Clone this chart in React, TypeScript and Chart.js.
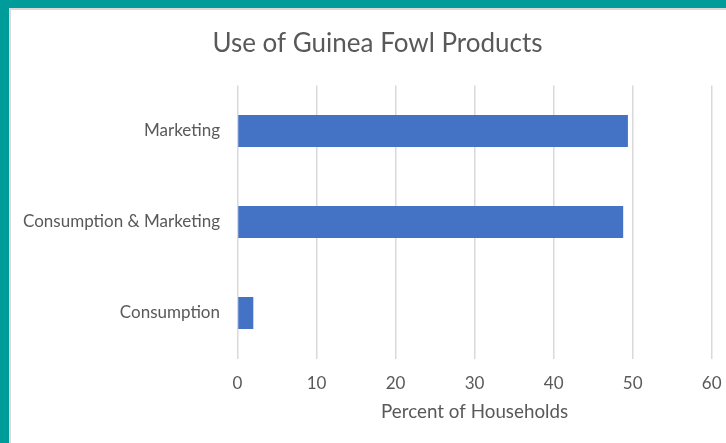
import React, { useEffect, useRef } from "react";
import { Chart, registerables } from "chart.js";

Chart.register(...registerables);

const chartTitle = "Use of Guinea Fowl Products";
const axisTitle = "Percent of Households";
const categories = ["Marketing", "Consumption & Marketing", "Consumption"];
const percentOfHouseholds = [49.4, 48.8, 2.0];
const xMin = 0;
const xMax = 60;
const xStep = 10;

const FONT = "Lato, 'Noto Sans', sans-serif";
const TEXT = "#595959";

// Center the title over the whole canvas rather than the padded layout box
const fullWidthTitle = {
  id: "fullWidthTitle",
  afterLayout(chart: any) {
    const t = chart.titleBlock;
    if (t) {
      t.left = 0;
      t.right = chart.width;
      t.width = chart.width;
    }
  },
};

export default function App() {
  const ref = useRef<HTMLCanvasElement | null>(null);

  useEffect(() => {
    if (!ref.current) return;
    const chart = new Chart(ref.current, {
      type: "bar",
      data: {
        labels: categories,
        datasets: [
          {
            data: percentOfHouseholds,
            backgroundColor: "#4472C4",
            borderWidth: 0,
            categoryPercentage: 1,
            barPercentage: 0.35,
          },
        ],
      },
      plugins: [fullWidthTitle],
      options: {
        indexAxis: "y",
        animation: false,
        responsive: false,
        maintainAspectRatio: false,
        layout: { padding: { left: 0, right: 32.3, top: 0, bottom: 0 } },
        plugins: {
          legend: { display: false },
          tooltip: { enabled: false },
          title: {
            display: true,
            text: chartTitle,
            color: TEXT,
            font: { family: FONT, size: 26, weight: "normal" },
            padding: { top: 17.8, bottom: 26.5 },
          },
        },
        scales: {
          x: {
            min: xMin,
            max: xMax,
            border: { display: false },
            grid: { color: "#d9d9d9", lineWidth: 1.5, drawTicks: false },
            ticks: {
              stepSize: xStep,
              color: TEXT,
              padding: 14.5,
              font: { family: FONT, size: 17 },
            },
            title: {
              display: true,
              text: axisTitle,
              color: TEXT,
              font: { family: FONT, size: 18.8 },
              padding: { top: 0, bottom: 19.7 },
            },
            afterFit: (scale: any) => {
              scale.height = 84.5;
            },
          },
          y: {
            border: { display: false },
            grid: { display: false, drawTicks: false },
            ticks: {
              color: TEXT,
              padding: 17.5,
              font: { family: FONT, size: 17 },
            },
            afterFit: (scale: any) => {
              scale.width = 226.5;
            },
          },
        },
      },
    });
    return () => chart.destroy();
  }, []);

  return (
    <div
      style={{
        position: "fixed",
        left: 0,
        top: 0,
        width: 726,
        height: 443,
        overflow: "hidden",
        background: "#009C9A",
      }}
    >
      <div
        style={{
          position: "absolute",
          left: 9,
          top: 8,
          width: 800,
          height: 500,
          background: "#ffffff",
          borderLeft: "2px solid #d9d9d9",
          borderTop: "2px solid #d9d9d9",
        }}
      />
      <canvas
        ref={ref}
        width={733}
        height={433}
        style={{ position: "absolute", left: 11, top: 10, width: 733, height: 433 }}
      />
    </div>
  );
}
